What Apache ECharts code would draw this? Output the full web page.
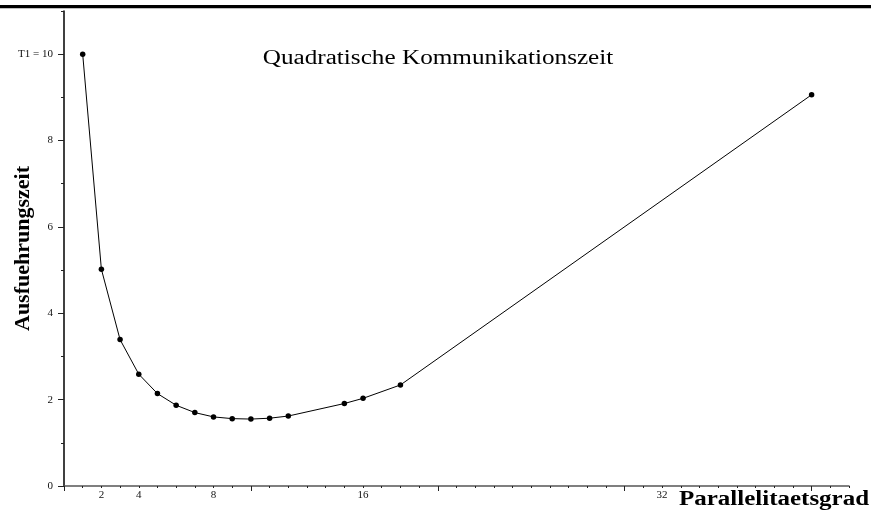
<!DOCTYPE html>
<html>
<head>
<meta charset="utf-8">
<script src="https://cdn.jsdelivr.net/npm/echarts@6/dist/echarts.min.js"></script>
<style>
  html, body { margin: 0; padding: 0; background: #fff; }
  #chart { width: 871px; height: 516px; }
</style>
</head>
<body>
<div id="chart"></div>
<script>
// Degree of parallelism (p) and execution time T(p)
const parallelism = [1, 2, 3, 4, 5, 6, 7, 8, 9, 10, 11, 12, 15, 16, 18, 40];
const execTime = [10, 5.02, 3.39, 2.59, 2.14, 1.87, 1.70, 1.60, 1.56, 1.55, 1.57, 1.62, 1.91, 2.03, 2.34, 9.06];

// Axis tick labels
const xTickLabels = [2, 4, 8, 16, 32];
const xMajorTicks = [0, 10, 20, 30, 40];
const yTickLabels = [0, 2, 4, 6, 8, 10];

const titleText = 'Quadratische Kommunikationszeit';
const xName = 'Parallelitaetsgrad';
const yName = 'Ausfuehrungszeit';

const serif = '"Liberation Serif", "Times New Roman", serif';

const chart = echarts.init(document.getElementById('chart'));

chart.setOption({
  animation: false,
  backgroundColor: '#fff',
  grid: { left: 64, right: 22, top: 11, bottom: 30, containLabel: false, outerBoundsMode: 'none' },
  xAxis: [
    {
      type: 'value', position: 'bottom', min: 0, max: 42,
      axisLine: { show: true, onZero: false, lineStyle: { color: '#555', width: 1.5 } },
      axisTick: { show: true, inside: false, length: 5, customValues: xMajorTicks, lineStyle: { color: '#222', width: 1 } },
      axisLabel: { show: true, customValues: xTickLabels, margin: 4, fontFamily: serif, fontSize: 11, color: '#111' },
      splitLine: { show: false }
    },
    {
      type: 'value', position: 'bottom', min: 0, max: 42, interval: 1,
      axisLine: { show: false },
      axisTick: { show: true, inside: false, length: 2, lineStyle: { color: '#222', width: 1 } },
      axisLabel: { show: false },
      splitLine: { show: false }
    }
  ],
  yAxis: [
    {
      type: 'value', position: 'left', min: 0, max: 11,
      name: yName, nameLocation: 'middle', nameRotate: 90, nameGap: 30, nameMoveOverlap: false,
      nameTextStyle: { fontFamily: serif, fontSize: 22, fontWeight: 'bold', color: '#000' },
      axisLine: { show: true, onZero: false, lineStyle: { color: '#000', width: 1.5 } },
      axisTick: { show: true, inside: false, length: 6, customValues: yTickLabels, lineStyle: { color: '#222', width: 1 } },
      axisLabel: {
        show: true, customValues: yTickLabels, margin: 11,
        fontFamily: serif, fontSize: 11, color: '#111',
        formatter: v => (v === 10 ? 'T1 = 10' : String(v))
      },
      splitLine: { show: false }
    },
    {
      type: 'value', position: 'left', min: 0, max: 11, interval: 1,
      axisLine: { show: false },
      axisTick: { show: true, inside: false, length: 3, lineStyle: { color: '#222', width: 1 } },
      axisLabel: { show: false },
      splitLine: { show: false }
    }
  ],
  graphic: [
    // heavy rule across the top edge
    { type: 'rect', shape: { x: 0, y: 5, width: 871, height: 3.3 }, style: { fill: '#000' }, silent: true },
    {
      type: 'text', x: 438, y: 59, scaleX: 1.26,
      style: { text: titleText, font: '20px ' + serif, fill: '#000', textAlign: 'center', textVerticalAlign: 'middle' }
    },
    {
      type: 'text', x: 774, y: 500, scaleX: 1.25,
      style: { text: xName, font: 'bold 20px ' + serif, fill: '#000', textAlign: 'center', textVerticalAlign: 'middle' }
    }
  ],
  series: [
    {
      type: 'line',
      xAxisIndex: 0, yAxisIndex: 0,
      data: parallelism.map((p, i) => [p, execTime[i]]),
      symbol: 'circle', symbolSize: 5.5, showSymbol: true,
      lineStyle: { color: '#000', width: 1 },
      itemStyle: { color: '#000' }
    }
  ]
});
</script>
</body>
</html>
